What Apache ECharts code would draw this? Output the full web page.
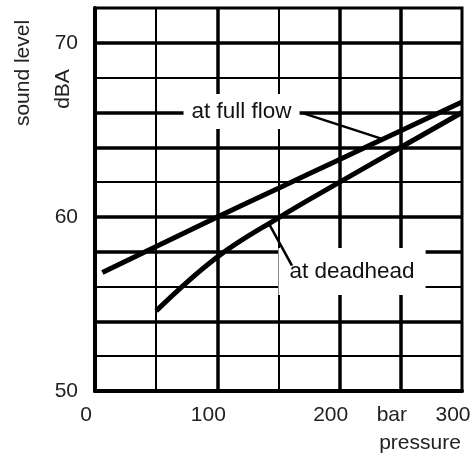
<!DOCTYPE html>
<html>
<head>
<meta charset="utf-8">
<script src="https://cdn.jsdelivr.net/npm/echarts@6/dist/echarts.min.js"></script>
<style>
html,body{margin:0;padding:0;background:#fff;}
#chart{width:474px;height:454px;}
</style>
</head>
<body>
<div id="chart"></div>
<script>
// ---- data ----
const fullFlow = [[6, 56.8], [50, 58.3], [100, 60.0], [150, 61.65], [200, 63.3], [250, 64.95], [300, 66.6]];
const deadhead = [[50, 54.6], [100, 57.7], [150, 59.95], [200, 62.0], [250, 64.0], [300, 66.0]];
const xTickLabels = {0: '0', 100: '100', 200: '200', 250: 'bar', 300: '300'};
const yTickLabels = {50: '50', 60: '60', 70: '70'};
const thickX = [100, 200, 250];
const thickY = [54, 58, 60, 64, 66, 70];
const fullFlowLabel = [119.8, 66.05];
const deadheadLabel = [210.1, 56.86];
const fullFlowLeader = [[170.5, 65.95], [234, 64.5]];
const deadheadLeader = [[141.5, 59.7], [161, 57.2]];

const FONT = '"Liberation Sans", Arial, Helvetica, sans-serif';
const chart = echarts.init(document.getElementById('chart'));

const thickLines = thickX.map(v => ({xAxis: v})).concat(thickY.map(v => ({yAxis: v})));

chart.setOption({
  animation: false,
  grid: {left: 95, top: 8, width: 367, height: 383, show: true, borderColor: '#000', borderWidth: 3, backgroundColor: 'transparent'},
  xAxis: {
    type: 'value', min: 0, max: 300, interval: 50,
    axisLine: {show: true, lineStyle: {color: '#000', width: 4}},
    axisTick: {show: false},
    splitLine: {show: true, lineStyle: {color: '#000', width: 2}},
    axisLabel: {
      color: '#222', fontFamily: FONT, fontSize: 21, margin: 14,
      padding: [0, 18, 0, 0],
      formatter: v => xTickLabels[v] !== undefined ? xTickLabels[v] : ''
    }
  },
  yAxis: {
    type: 'value', min: 50, max: 72, interval: 2,
    axisLine: {show: true, lineStyle: {color: '#000', width: 4}},
    axisTick: {show: false},
    splitLine: {show: true, lineStyle: {color: '#000', width: 2}},
    axisLabel: {
      color: '#222', fontFamily: FONT, fontSize: 21, margin: 17,
      formatter: v => yTickLabels[v] !== undefined ? yTickLabels[v] : ''
    }
  },
  series: [
    {
      type: 'line', data: [], silent: true,
      markLine: {silent: true, symbol: ['none', 'none'], label: {show: false},
        lineStyle: {color: '#000', width: 3.5, type: 'solid'}, data: thickLines}
    },
    {
      type: 'line', data: fullFlow, smooth: 0.3, showSymbol: false, symbol: 'none',
      lineStyle: {color: '#000', width: 5}, z: 5
    },
    {
      type: 'line', data: deadhead, smooth: 0.4, showSymbol: false, symbol: 'none',
      lineStyle: {color: '#000', width: 5}, z: 5
    },
    {
      type: 'scatter', symbolSize: 0, z: 7,
      itemStyle: {opacity: 1},
      data: [
        {value: fullFlowLabel, name: 'at full flow', label: {padding: [6, 8]}},
        {value: deadheadLabel, name: 'at deadhead', label: {padding: [12, 11]}}
      ],
      label: {
        show: true, position: 'inside', formatter: p => p.name, opacity: 1,
        color: '#111', fontFamily: FONT, fontSize: 22.5,
        backgroundColor: '#fff'
      }
    },
    {
      type: 'line', data: fullFlowLeader, showSymbol: false, symbol: 'none',
      lineStyle: {color: '#000', width: 2.5}, z: 9
    },
    {
      type: 'line', data: deadheadLeader, showSymbol: false, symbol: 'none',
      lineStyle: {color: '#000', width: 2.5}, z: 9
    }
  ],
  graphic: [
    {type: 'text', x: 23, y: 73, rotation: Math.PI / 2,
      style: {text: 'sound level', font: '21px ' + FONT, fill: '#222', textAlign: 'center', textVerticalAlign: 'middle'}},
    {type: 'text', x: 63, y: 89, rotation: Math.PI / 2,
      style: {text: 'dBA', font: '21px ' + FONT, fill: '#222', textAlign: 'center', textVerticalAlign: 'middle'}},
    {type: 'text', x: 420, y: 443,
      style: {text: 'pressure', font: '21px ' + FONT, fill: '#222', textAlign: 'center', textVerticalAlign: 'middle'}}
  ]
});
</script>
</body>
</html>
